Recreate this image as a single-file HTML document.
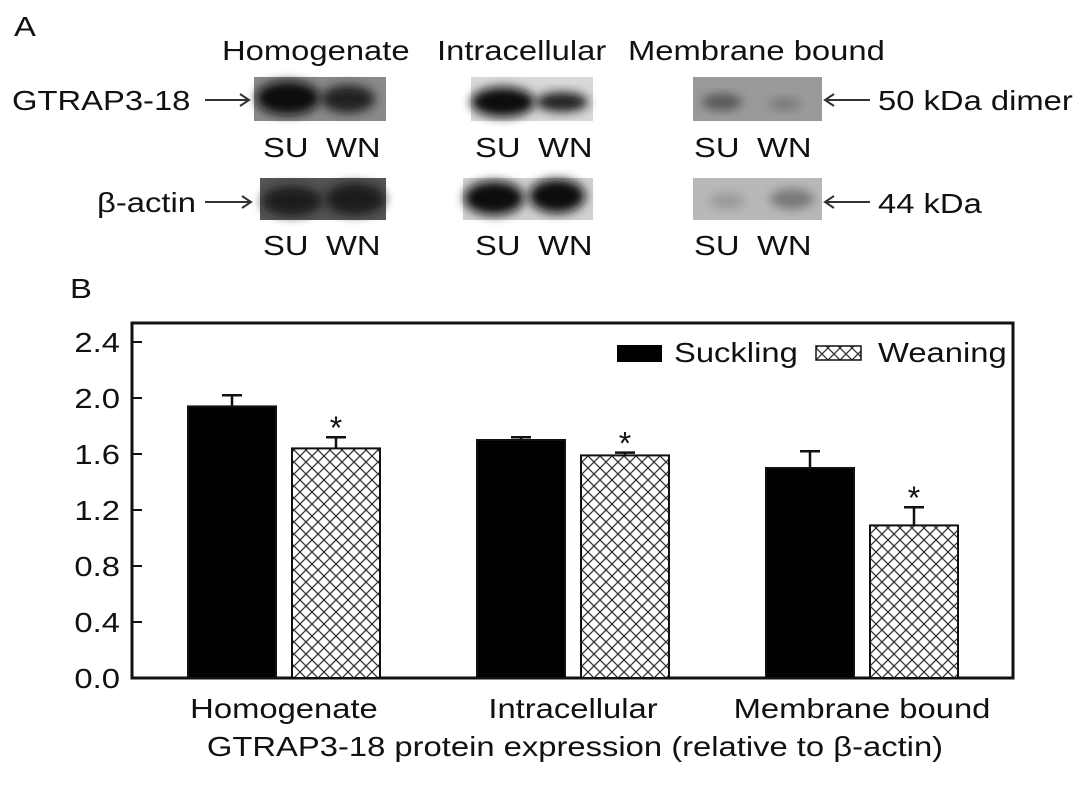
<!DOCTYPE html>
<html><head><meta charset="utf-8"><style>
body{margin:0;background:#fff;width:1087px;height:780px;overflow:hidden;font-family:"Liberation Sans",sans-serif}
svg text{font-family:"Liberation Sans",sans-serif;fill:#111}
</style></head><body>
<svg id="fig" width="1087" height="780" viewBox="0 0 1087 780">
<defs>
<pattern id="hatch" width="12" height="12" patternUnits="userSpaceOnUse">
<rect width="12" height="12" fill="#fff"/>
<path d="M0,0L12,12M12,0L0,12M-6,6L6,18M6,-6L18,6M-6,6L6,-6M6,18L18,6" stroke="#333" stroke-width="1.3"/>
</pattern>
<filter id="blur" x="-20%" y="-40%" width="140%" height="180%"><feGaussianBlur stdDeviation="5"/></filter>
</defs>
<g>
<text x="14" y="36" font-size="28">A</text>
<text x="222" y="60" font-size="28">Homogenate</text>
<text x="437" y="60" font-size="28">Intracellular</text>
<text x="628" y="60" font-size="28">Membrane bound</text>
<text x="12" y="110" font-size="28">GTRAP3-18</text>
<text x="97" y="212" font-size="28">β-actin</text>
<g stroke="#333" stroke-width="2" fill="none">
<path d="M205,100H248M240,94L249,100L240,106"/>
<path d="M205,202H250M242,196L251,202L242,208"/>
<path d="M870,100H826M834,94L825,100L834,106"/>
<path d="M870,202H826M834,196L825,202L834,208"/>
</g>
<text x="878" y="110" font-size="28">50 kDa dimer</text>
<text x="878" y="213" font-size="28">44 kDa</text>
<g>
<rect x="254" y="77" width="132" height="44" fill="#8a8a8a"/>
<ellipse cx="288" cy="98" rx="32" ry="17" fill="#111" filter="url(#blur)"/>
<ellipse cx="348" cy="99" rx="27" ry="14" fill="#222" filter="url(#blur)"/>
<rect x="471" y="77" width="122" height="44" fill="#d8d8d8"/>
<ellipse cx="503" cy="102" rx="32" ry="15" fill="#111" filter="url(#blur)"/>
<ellipse cx="562" cy="102" rx="26" ry="10" fill="#222" filter="url(#blur)"/>
<rect x="693" y="77" width="129" height="44" fill="#9a9a9a"/>
<ellipse cx="722" cy="102" rx="20" ry="8" fill="#555" filter="url(#blur)"/>
<ellipse cx="785" cy="104" rx="16" ry="6" fill="#777" filter="url(#blur)"/>
<rect x="260" y="178" width="126" height="42" fill="#555"/>
<ellipse cx="292" cy="201" rx="30" ry="15" fill="#1a1a1a" filter="url(#blur)"/>
<ellipse cx="355" cy="199" rx="30" ry="16" fill="#1a1a1a" filter="url(#blur)"/>
<rect x="463" y="178" width="130" height="42" fill="#d0d0d0"/>
<ellipse cx="494" cy="198" rx="30" ry="17" fill="#111" filter="url(#blur)"/>
<ellipse cx="557" cy="196" rx="28" ry="17" fill="#111" filter="url(#blur)"/>
<rect x="693" y="178" width="129" height="42" fill="#b8b8b8"/>
<ellipse cx="727" cy="201" rx="18" ry="8" fill="#999" filter="url(#blur)"/>
<ellipse cx="792" cy="199" rx="22" ry="10" fill="#777" filter="url(#blur)"/>
</g>
<g font-size="28">
<text x="263" y="157">SU</text><text x="326" y="157">WN</text>
<text x="475" y="157">SU</text><text x="538" y="157">WN</text>
<text x="694" y="157">SU</text><text x="757" y="157">WN</text>
<text x="263" y="255">SU</text><text x="326" y="255">WN</text>
<text x="475" y="255">SU</text><text x="538" y="255">WN</text>
<text x="694" y="255">SU</text><text x="757" y="255">WN</text>
</g>
<text x="70" y="298" font-size="28">B</text>
</g>
<g id="chart"></g>
</svg>
<script>
const categories = ["Homogenate", "Intracellular", "Membrane bound"];
const suckling = [1.94, 1.70, 1.50];
const sucklingErr = [0.08, 0.02, 0.12];
const weaning = [1.64, 1.59, 1.09];
const weaningErr = [0.08, 0.02, 0.13];
const significant = [true, true, true];
const yTicks = [0, 0.4, 0.8, 1.2, 1.6, 2.0, 2.4];
const yTickLabels = ["0.0", "0.4", "0.8", "1.2", "1.6", "2.0", "2.4"];

const NS = "http://www.w3.org/2000/svg";
const g = document.getElementById('chart');
const L = 132, R = 1013, T = 323, B = 678;
const y = v => B - v * 140;
const cx = i => 284 + i * 289;
function mk(tag, attrs, parent) {
  const e = document.createElementNS(NS, tag);
  for (const k in attrs) e.setAttribute(k, attrs[k]);
  (parent || g).appendChild(e);
  return e;
}
let fr = mk('rect', {x: L, y: T, width: R - L, height: B - T, fill: 'none', stroke: '#111', 'stroke-width': 3});


yTicks.forEach((t, i) => {
  const tk = mk('line', {x1: L, x2: L + 10, y1: y(t), y2: y(t), stroke: '#111', 'stroke-width': 2});
  
  
  const tx = mk('text', {x: L - 12, y: y(t) + 10, 'font-size': 28, 'text-anchor': 'end'});
  tx.textContent = yTickLabels[i];
  
  
});
function bar(x, v, err, fill, name, star) {
  const r = mk('rect', {x: x, y: y(v), width: 88, height: B - y(v), fill: fill, stroke: '#111', 'stroke-width': 2});
  
  
  const m = x + 44;
  const eb = mk('path', {d: `M${m},${y(v)}V${y(v + err)}M${m - 10},${y(v + err)}H${m + 10}`, stroke: '#111', 'stroke-width': 2.5, fill: 'none'});
  
  
  if (star) {
    const s = mk('text', {x: m, y: y(v + err) + 2, 'font-size': 32, 'text-anchor': 'middle'});
    s.textContent = '*';
    
    
  }
}
categories.forEach((c, i) => {
  bar(cx(i) - 96, suckling[i], sucklingErr[i], '#000', 'bar-suckling', false);
  bar(cx(i) + 8, weaning[i], weaningErr[i], 'url(#hatch)', 'bar-weaning', significant[i]);
  const t = mk('text', {x: cx(i), y: 718, 'font-size': 28, 'text-anchor': 'middle'});
  t.textContent = c;
  
  
});
const xt = mk('text', {x: 575, y: 756, 'font-size': 28, 'text-anchor': 'middle'});
xt.textContent = 'GTRAP3-18 protein expression (relative to β-actin)';


const lg = mk('g', {});


const l1 = mk('rect', {x: 617, y: 345, width: 45, height: 17, fill: '#000'}, lg);


const lt1 = mk('text', {x: 674, y: 362, 'font-size': 28}, lg);
lt1.textContent = 'Suckling';


const l2 = mk('rect', {x: 816, y: 346, width: 45, height: 14, fill: 'url(#hatch)', stroke: '#111', 'stroke-width': 1.5}, lg);


const lt2 = mk('text', {x: 878, y: 362, 'font-size': 28}, lg);
lt2.textContent = 'Weaning';


// widen text horizontally to match the reference's stretched font
document.querySelectorAll('#fig text').forEach(t => {
  if (t.textContent === '*') return;
  const w = t.getComputedTextLength();
  t.setAttribute('textLength', (w * 1.17).toFixed(1));
  t.setAttribute('lengthAdjust', 'spacingAndGlyphs');
});
</script>
</body></html>
